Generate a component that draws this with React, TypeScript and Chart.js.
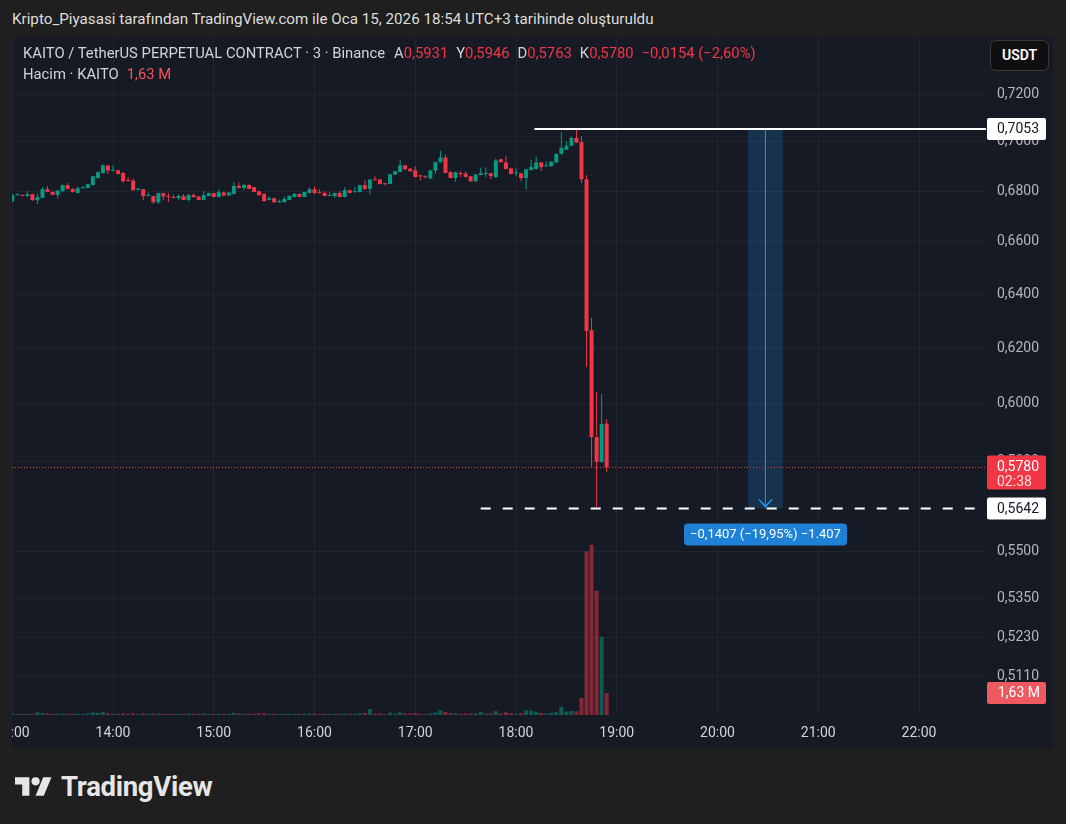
import React, { useEffect, useRef } from "react";
import { Chart, registerables } from "chart.js";

Chart.register(...registerables);

const FONT = "Roboto, 'Noto Sans', 'DejaVu Sans', sans-serif";
const RED = "#f23645";
const GREEN = "#089981";

// 3-minute candles, KAITO / USDT perpetual
const candleTimes = [
  "13:00","13:03","13:06","13:09","13:12","13:15","13:18","13:21","13:24","13:27",
  "13:30","13:33","13:36","13:39","13:42","13:45","13:48","13:51","13:54","13:57",
  "14:00","14:03","14:06","14:09","14:12","14:15","14:18","14:21","14:24","14:27",
  "14:30","14:33","14:36","14:39","14:42","14:45","14:48","14:51","14:54","14:57",
  "15:00","15:03","15:06","15:09","15:12","15:15","15:18","15:21","15:24","15:27",
  "15:30","15:33","15:36","15:39","15:42","15:45","15:48","15:51","15:54","15:57",
  "16:00","16:03","16:06","16:09","16:12","16:15","16:18","16:21","16:24","16:27",
  "16:30","16:33","16:36","16:39","16:42","16:45","16:48","16:51","16:54","16:57",
  "17:00","17:03","17:06","17:09","17:12","17:15","17:18","17:21","17:24","17:27",
  "17:30","17:33","17:36","17:39","17:42","17:45","17:48","17:51","17:54","17:57",
  "18:00","18:03","18:06","18:09","18:12","18:15","18:18","18:21","18:24","18:27",
  "18:30","18:33","18:36","18:39","18:42","18:45","18:48","18:51","18:54"
];

const opens = [
  0.6760,0.6784,0.6785,0.6781,0.6788,0.6764,0.6773,0.6808,0.6797,0.6785,
  0.6800,0.6824,0.6809,0.6793,0.6812,0.6813,0.6825,0.6853,0.6873,0.6904,
  0.6881,0.6884,0.6873,0.6844,0.6843,0.6805,0.6808,0.6781,0.6780,0.6756,
  0.6792,0.6779,0.6776,0.6773,0.6780,0.6765,0.6785,0.6779,0.6765,0.6781,
  0.6792,0.6777,0.6795,0.6783,0.6789,0.6821,0.6813,0.6825,0.6816,0.6800,
  0.6789,0.6765,0.6772,0.6756,0.6756,0.6765,0.6777,0.6789,0.6777,0.6793,
  0.6808,0.6797,0.6793,0.6781,0.6780,0.6793,0.6777,0.6804,0.6796,0.6797,
  0.6824,0.6809,0.6847,0.6847,0.6831,0.6829,0.6867,0.6877,0.6904,0.6891,
  0.6884,0.6863,0.6859,0.6851,0.6883,0.6917,0.6936,0.6877,0.6853,0.6873,
  0.6871,0.6860,0.6840,0.6865,0.6869,0.6872,0.6856,0.6929,0.6916,0.6892,
  0.6872,0.6872,0.6853,0.6885,0.6889,0.6916,0.6900,0.6900,0.6916,0.6951,
  0.6968,0.6984,0.7016,0.6999,0.6848,0.6266,0.5884,0.5799,0.5931
];

const highs = [
  0.6788,0.6792,0.6787,0.6800,0.6790,0.6791,0.6816,0.6820,0.6800,0.6804,
  0.6826,0.6832,0.6812,0.6820,0.6820,0.6830,0.6862,0.6880,0.6909,0.6906,
  0.6904,0.6886,0.6876,0.6856,0.6851,0.6814,0.6809,0.6795,0.6782,0.6794,
  0.6794,0.6792,0.6787,0.6787,0.6789,0.6788,0.6791,0.6780,0.6800,0.6794,
  0.6794,0.6808,0.6798,0.6797,0.6836,0.6836,0.6829,0.6828,0.6818,0.6802,
  0.6793,0.6780,0.6774,0.6767,0.6780,0.6784,0.6793,0.6791,0.6798,0.6816,
  0.6820,0.6808,0.6800,0.6797,0.6794,0.6800,0.6816,0.6806,0.6816,0.6826,
  0.6844,0.6848,0.6860,0.6848,0.6832,0.6870,0.6882,0.6927,0.6907,0.6892,
  0.6900,0.6864,0.6864,0.6886,0.6920,0.6964,0.6947,0.6880,0.6878,0.6880,
  0.6880,0.6862,0.6869,0.6895,0.6895,0.6874,0.6932,0.6932,0.6943,0.6894,
  0.6895,0.6874,0.6890,0.6927,0.6940,0.6918,0.6920,0.6921,0.6952,0.7040,
  0.7003,0.7023,0.7053,0.7024,0.6864,0.6311,0.6042,0.6035,0.5946
];

const lows = [
  0.6756,0.6782,0.6780,0.6776,0.6762,0.6749,0.6772,0.6796,0.6784,0.6771,
  0.6798,0.6808,0.6795,0.6791,0.6810,0.6811,0.6822,0.6850,0.6870,0.6869,
  0.6879,0.6867,0.6833,0.6840,0.6802,0.6803,0.6764,0.6780,0.6749,0.6749,
  0.6764,0.6757,0.6772,0.6765,0.6764,0.6759,0.6774,0.6764,0.6763,0.6780,
  0.6776,0.6776,0.6780,0.6781,0.6788,0.6812,0.6804,0.6808,0.6796,0.6782,
  0.6758,0.6764,0.6753,0.6754,0.6754,0.6764,0.6776,0.6776,0.6776,0.6791,
  0.6789,0.6792,0.6780,0.6780,0.6775,0.6776,0.6776,0.6792,0.6794,0.6796,
  0.6806,0.6789,0.6843,0.6828,0.6824,0.6828,0.6865,0.6876,0.6883,0.6879,
  0.6856,0.6843,0.6851,0.6850,0.6869,0.6916,0.6872,0.6852,0.6837,0.6857,
  0.6856,0.6838,0.6836,0.6864,0.6857,0.6847,0.6854,0.6916,0.6888,0.6868,
  0.6860,0.6841,0.6807,0.6884,0.6888,0.6880,0.6898,0.6899,0.6915,0.6947,
  0.6967,0.6983,0.6996,0.6833,0.6132,0.5782,0.5642,0.5795,0.5763
];

const closes = [
  0.6784,0.6788,0.6781,0.6788,0.6764,0.6777,0.6808,0.6797,0.6785,0.6803,
  0.6824,0.6809,0.6797,0.6812,0.6816,0.6828,0.6860,0.6876,0.6904,0.6883,
  0.6884,0.6869,0.6840,0.6841,0.6804,0.6810,0.6780,0.6785,0.6756,0.6792,
  0.6779,0.6777,0.6773,0.6781,0.6765,0.6785,0.6776,0.6765,0.6785,0.6792,
  0.6777,0.6796,0.6783,0.6795,0.6821,0.6813,0.6825,0.6809,0.6797,0.6784,
  0.6760,0.6772,0.6756,0.6761,0.6769,0.6781,0.6789,0.6777,0.6797,0.6808,
  0.6792,0.6793,0.6781,0.6785,0.6793,0.6777,0.6804,0.6793,0.6800,0.6824,
  0.6809,0.6847,0.6844,0.6829,0.6828,0.6868,0.6880,0.6904,0.6889,0.6880,
  0.6857,0.6860,0.6856,0.6883,0.6917,0.6936,0.6873,0.6853,0.6876,0.6869,
  0.6857,0.6840,0.6867,0.6872,0.6872,0.6861,0.6924,0.6917,0.6889,0.6869,
  0.6875,0.6853,0.6888,0.6897,0.6916,0.6897,0.6904,0.6919,0.6951,0.6976,
  0.6984,0.7016,0.6997,0.6848,0.6264,0.5884,0.5799,0.5930,0.5780
];

// volume in millions of KAITO
const volumes = [
  0.10,0.06,0.08,0.07,0.09,0.20,0.14,0.10,0.08,0.09,
  0.11,0.09,0.08,0.10,0.07,0.12,0.18,0.16,0.24,0.13,
  0.08,0.09,0.12,0.08,0.13,0.07,0.12,0.07,0.11,0.10,
  0.09,0.08,0.06,0.07,0.09,0.10,0.08,0.09,0.12,0.08,
  0.07,0.09,0.08,0.07,0.16,0.10,0.09,0.08,0.10,0.12,
  0.13,0.07,0.09,0.06,0.08,0.09,0.07,0.08,0.10,0.12,
  0.11,0.06,0.08,0.07,0.09,0.08,0.12,0.09,0.07,0.14,
  0.15,0.45,0.10,0.12,0.07,0.18,0.10,0.20,0.12,0.10,
  0.14,0.08,0.07,0.13,0.18,0.35,0.22,0.14,0.12,0.08,
  0.10,0.12,0.11,0.22,0.10,0.12,0.28,0.12,0.20,0.14,
  0.10,0.13,0.35,0.33,0.25,0.15,0.10,0.16,0.22,0.60,
  0.25,0.30,0.28,1.26,12.1,12.6,9.2,5.8,1.63
];

const priceTicks = [0.72, 0.70, 0.68, 0.66, 0.64, 0.62, 0.60, 0.58, 0.55, 0.535, 0.523, 0.511];
const timeTicks = ["13:00","14:00","15:00","16:00","17:00","18:00","19:00","20:00","21:00","22:00"];

const highRay = { start: "18:11", price: 0.7053 };
const lowRay = { start: "17:39", price: 0.5642 };
const lastPrice = 0.578;
const countdown = "02:38";
const rangeTimes = ["20:18", "20:39"];
const rangePrices = [0.5642, 0.7053];
const rangeLabel = "\u22120,1407 (\u221219,95%) \u22121.407";
const lastVolumeLabel = "1,63 M";
const legendChange = "\u22120,0154 (\u22122,60%)";

const X_MIN = -0.15;
const X_MAX = 579.9;
const Y_MIN = 0.49967;
const Y_MAX = 0.74456;
const VOL_MAX = 50.2;

const toMin = (t: string) => {
  const [h, m] = t.split(":").map(Number);
  return (h - 13) * 60 + m;
};
const fmt = (v: number) => v.toFixed(4).replace(".", ",");

const last = opens.length - 1;

export default function App() {
  const ref = useRef<HTMLCanvasElement>(null);

  useEffect(() => {
    const canvas = ref.current;
    if (!canvas) return;
    const up = closes.map((c, i) => c >= opens[i]);
    const candleColors = up.map((u) => (u ? GREEN : RED));
    const volColors = up.map((u) => (u ? "rgba(8,153,129,0.5)" : "rgba(242,54,69,0.5)"));
    const xs = candleTimes.map(toMin);
    const rangeMid = (toMin(rangeTimes[0]) + toMin(rangeTimes[1])) / 2;

    const overlay = {
      id: "overlay",
      afterDraw(chart: any) {
        const { ctx, chartArea } = chart;
        const x = chart.scales.x;
        const y = chart.scales.y;
        const yv = chart.scales.yv;
        ctx.save();
        // arrow head of price range
        const mx = Math.round(x.getPixelForValue(rangeMid)) + 0.5;
        const by = y.getPixelForValue(rangePrices[0]);
        ctx.strokeStyle = "#2196f3";
        ctx.lineWidth = 1.5;
        ctx.beginPath();
        ctx.moveTo(mx - 6.5, by - 9);
        ctx.lineTo(mx, by - 2);
        ctx.lineTo(mx + 6.5, by - 9);
        ctx.stroke();
        // price range label
        const bw = 163, bh = 22;
        const bx = mx - bw / 2;
        const bt = by + 15;
        ctx.fillStyle = "#1e80d6";
        ctx.beginPath();
        (ctx as any).roundRect(bx, bt, bw, bh, 4);
        ctx.fill();
        ctx.fillStyle = "#ffffff";
        ctx.font = `13px ${FONT}`;
        ctx.textAlign = "center";
        ctx.textBaseline = "middle";
        ctx.fillText(rangeLabel, mx, bt + bh / 2 + 0.5);

        // axis labels
        const ax = chartArea.right + 1;
        const aw = 59;
        const tx = chartArea.right + 11;
        ctx.textAlign = "left";
        ctx.font = `14px ${FONT}`;
        const box = (top: number, h: number, color: string) => {
          ctx.fillStyle = color;
          ctx.beginPath();
          (ctx as any).roundRect(ax, top, aw, h, 2);
          ctx.fill();
        };
        const hy = y.getPixelForValue(highRay.price);
        box(hy - 11, 22, "#ffffff");
        ctx.fillStyle = "#131722";
        ctx.fillText(fmt(highRay.price), tx, hy + 0.5);

        const ly = y.getPixelForValue(lowRay.price);
        box(ly - 11, 22, "#ffffff");
        ctx.fillStyle = "#131722";
        ctx.fillText(fmt(lowRay.price), tx, ly + 0.5);

        const cy = y.getPixelForValue(lastPrice);
        box(cy - 12, 34, RED);
        ctx.fillStyle = "#ffffff";
        ctx.fillText(fmt(lastPrice), tx, cy);
        ctx.fillStyle = "rgba(255,255,255,0.82)";
        ctx.fillText(countdown, tx, cy + 15);

        const vy = yv.getPixelForValue(volumes[last]);
        box(vy - 11, 22, "#ee5a60");
        ctx.fillStyle = "#ffffff";
        ctx.fillText(lastVolumeLabel, tx + 1, vy + 0.5);
        ctx.restore();
      },
    };

    const chart = new Chart(canvas, {
      type: "bar",
      data: {
        datasets: [
          {
            type: "line",
            data: [{ x: toMin(highRay.start), y: highRay.price }, { x: X_MAX, y: highRay.price }],
            borderColor: "#ffffff",
            borderWidth: 2,
            pointRadius: 0,
            yAxisID: "y",
            order: 0,
          } as any,
          {
            type: "line",
            data: [{ x: toMin(lowRay.start), y: lowRay.price }, { x: X_MAX, y: lowRay.price }],
            borderColor: "#ffffff",
            borderWidth: 2,
            borderDash: [10, 12],
            pointRadius: 0,
            yAxisID: "y",
            order: 0,
          } as any,
          {
            type: "line",
            data: [{ x: X_MIN, y: lastPrice }, { x: X_MAX, y: lastPrice }],
            borderColor: RED,
            borderWidth: 1,
            borderDash: [1, 2],
            pointRadius: 0,
            yAxisID: "y",
            order: 0,
          } as any,
          {
            type: "bar",
            data: xs.map((x, i) => ({ x, y: [opens[i], closes[i]] })),
            backgroundColor: candleColors,
            barThickness: 4,
            minBarLength: 1,
            grouped: false,
            inflateAmount: 0,
            borderWidth: 0,
            yAxisID: "y",
            order: 1,
          } as any,
          {
            type: "bar",
            data: xs.map((x, i) => ({ x, y: [lows[i], highs[i]] })),
            backgroundColor: candleColors,
            barThickness: 1,
            grouped: false,
            inflateAmount: 0,
            borderWidth: 0,
            yAxisID: "y",
            order: 2,
          } as any,
          {
            type: "bar",
            data: [{ x: rangeMid, y: [rangePrices[0], rangePrices[1]] }],
            backgroundColor: "#2196f3",
            barThickness: 1,
            grouped: false,
            inflateAmount: 0,
            borderWidth: 0,
            yAxisID: "y",
            order: 3,
          } as any,
          {
            type: "bar",
            data: xs.map((x, i) => ({ x, y: volumes[i] })),
            backgroundColor: volColors,
            barThickness: 4,
            grouped: false,
            inflateAmount: 0,
            borderWidth: 0,
            yAxisID: "yv",
            order: 5,
          } as any,
          {
            type: "bar",
            data: [{ x: rangeMid, y: [rangePrices[0], rangePrices[1]] }],
            backgroundColor: "rgba(33,150,243,0.2)",
            barThickness: 35,
            grouped: false,
            inflateAmount: 0,
            borderWidth: 0,
            yAxisID: "y",
            order: 6,
          } as any,
        ],
      },
      options: {
        responsive: false,
        maintainAspectRatio: false,
        animation: false,
        devicePixelRatio: 1,
        events: [],
        layout: { padding: 0 },
        plugins: { legend: { display: false }, tooltip: { enabled: false } },
        scales: {
          x: {
            type: "linear",
            min: X_MIN,
            max: X_MAX,
            bounds: "data",
            offset: false,
            grid: { color: "rgba(42,46,57,0.55)", offset: false, drawTicks: false },
            border: { display: false },
            afterBuildTicks: (s: any) => {
              s.ticks = timeTicks.map((t) => ({ value: toMin(t) }));
            },
            afterFit: (s: any) => {
              s.height = 33;
              s.paddingLeft = 0;
              s.paddingRight = 0;
            },
            ticks: {
              autoSkip: false,
              maxRotation: 0,
              padding: 10,
              color: "#d1d4dc",
              font: { size: 14, family: FONT },
              callback: (_v: any, i: number) => timeTicks[i],
            },
          },
          y: {
            type: "logarithmic",
            position: "right",
            min: Y_MIN,
            max: Y_MAX,
            bounds: "data",
            grid: { color: "rgba(42,46,57,0.55)", drawTicks: false },
            border: { display: false },
            afterBuildTicks: (s: any) => {
              s.ticks = priceTicks.map((v) => ({ value: v }));
            },
            afterFit: (s: any) => {
              s.width = 67;
              s.paddingTop = 0;
              s.paddingBottom = 0;
            },
            ticks: {
              autoSkip: false,
              padding: 11,
              color: "#b2b5be",
              font: { size: 14, family: FONT },
              callback: (v: any) => fmt(Number(v)),
            },
          },
          yv: {
            type: "linear",
            display: false,
            min: 0,
            max: VOL_MAX,
          },
        },
      } as any,
      plugins: [overlay as any],
    });
    return () => chart.destroy();
  }, []);

  const label = { color: "#d1d4dc" };
  const val = { color: RED };

  return (
    <div
      style={{
        position: "fixed",
        left: 0,
        top: 0,
        width: 1066,
        height: 824,
        background: "#1f1f1f",
        fontFamily: FONT,
        overflow: "hidden",
      }}
    >
      <div
        style={{
          position: "absolute",
          left: 12,
          top: 10,
          fontSize: 15.2,
          lineHeight: "18px",
          color: "#dddddd",
          whiteSpace: "nowrap",
        }}
      >
        Kripto_Piyasasi tarafından TradingView.com ile Oca 15, 2026 18:54 UTC+3 tarihinde oluşturuldu
      </div>
      <div
        style={{
          position: "absolute",
          left: 12,
          top: 37,
          width: 1041,
          height: 711,
          background: "#161a25",
          overflow: "hidden",
        }}
      >
        <canvas
          ref={ref}
          width={1041}
          height={711}
          style={{ position: "absolute", left: 0, top: 0, width: 1041, height: 711 }}
        />
        <div
          style={{
            position: "absolute",
            left: 11,
            top: 6,
            fontSize: 14.8,
            lineHeight: "20px",
            whiteSpace: "nowrap",
          }}
        >
          <div>
            <span style={label}>KAITO / TetherUS PERPETUAL CONTRACT · 3 · Binance</span>
            <span style={{ ...label, marginLeft: 9 }}>A</span>
            <span style={val}>{fmt(opens[last])}</span>
            <span style={{ ...label, marginLeft: 8 }}>Y</span>
            <span style={val}>{fmt(highs[last])}</span>
            <span style={{ ...label, marginLeft: 8 }}>D</span>
            <span style={val}>{fmt(lows[last])}</span>
            <span style={{ ...label, marginLeft: 8 }}>K</span>
            <span style={val}>{fmt(closes[last])}</span>
            <span style={{ ...val, marginLeft: 8 }}>{legendChange}</span>
          </div>
          <div style={{ marginTop: 1 }}>
            <span style={label}>Hacim · KAITO</span>
            <span style={{ color: "#f7525f", marginLeft: 8 }}>1,63 M</span>
          </div>
        </div>
        <div
          style={{
            position: "absolute",
            left: 978,
            top: 3,
            width: 57,
            height: 29,
            background: "#0f0f0f",
            border: "1px solid #3a3a3a",
            borderRadius: 6,
            color: "#ffffff",
            fontSize: 14,
            fontWeight: 600,
            lineHeight: "29px",
            textAlign: "center",
          }}
        >
          USDT
        </div>
      </div>
      <svg
        width={37}
        height={29}
        viewBox="0 0 36 28"
        style={{ position: "absolute", left: 15, top: 773 }}
      >
        <path d="M14 22H7V11H0V4h14v18zM28 22h-8l7.5-18h8L28 22z" fill="#e6e6e6" />
        <circle cx="20" cy="8" r="4" fill="#e6e6e6" />
      </svg>
      <div
        style={{
          position: "absolute",
          left: 61,
          top: 772,
          fontSize: 27.5,
          fontWeight: 700,
          lineHeight: "30px",
          color: "#e6e6e6",
          letterSpacing: -0.3,
        }}
      >
        TradingView
      </div>
    </div>
  );
}
